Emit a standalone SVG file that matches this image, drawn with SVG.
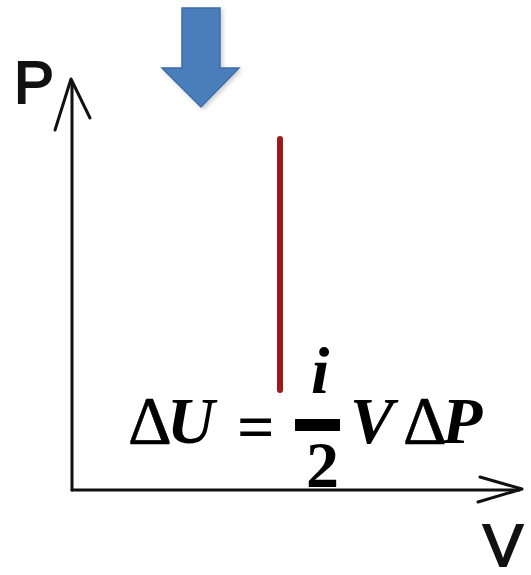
<svg xmlns="http://www.w3.org/2000/svg" width="531" height="575" viewBox="0 0 531 575">
<defs>
<filter id="sh" x="-20%" y="-20%" width="150%" height="150%">
<feDropShadow dx="2" dy="2" stdDeviation="2" flood-color="#000" flood-opacity="0.2"/>
</filter>
</defs>
<style>
.ax{stroke:#111;stroke-width:3;fill:none;stroke-linecap:round;stroke-linejoin:round}
.lbl{font-family:"Liberation Sans",Arial,sans-serif;font-size:60px;fill:#111;stroke:#111;stroke-width:2}
.m{font-family:"Liberation Serif","Times New Roman",serif;font-size:66px;font-weight:bold;fill:#000}
.it{font-style:italic}
.d{font-size:68px;font-weight:normal;font-style:normal;stroke:#000;stroke-width:0.6}
</style>
<rect width="531" height="575" fill="#fff"/>
<g id="axes">
<line class="ax" x1="72" y1="82" x2="72" y2="490"/>
<polyline class="ax" points="55,130 71,79 90,118"/>
<line class="ax" x1="72" y1="490" x2="519" y2="490"/>
<polyline class="ax" points="480,477 522,489 478,502"/>
</g>
<text id="labelP" class="lbl" x="14" y="103">P</text>
<text id="labelV" class="lbl" x="483" y="566">V</text>
<g id="arrow">
<polygon points="182,8 220,8 220,68 239,68 201,107 162,68 182,68" fill="#4a7ebb" stroke="#3e6ea8" stroke-width="1.5" filter="url(#sh)"/>
</g>
<g id="process">
<line x1="280" y1="139" x2="280" y2="390" stroke="#9e1a1a" stroke-width="6" stroke-linecap="round"/>
</g>
<g id="formula">
<text class="m" y="443"><tspan class="d" x="128">Δ</tspan><tspan class="it" x="167">U</tspan></text>
<text class="m" x="237" y="449" font-size="86">=</text>
<text class="m it" x="311" y="393">i</text>
<rect x="295" y="419" width="45" height="12" fill="#000"/>
<text class="m" x="306" y="487">2</text>
<text class="m" y="443"><tspan class="it" x="350">V</tspan><tspan class="d" x="403">Δ</tspan><tspan class="it" x="442">P</tspan></text>
</g>
</svg>
